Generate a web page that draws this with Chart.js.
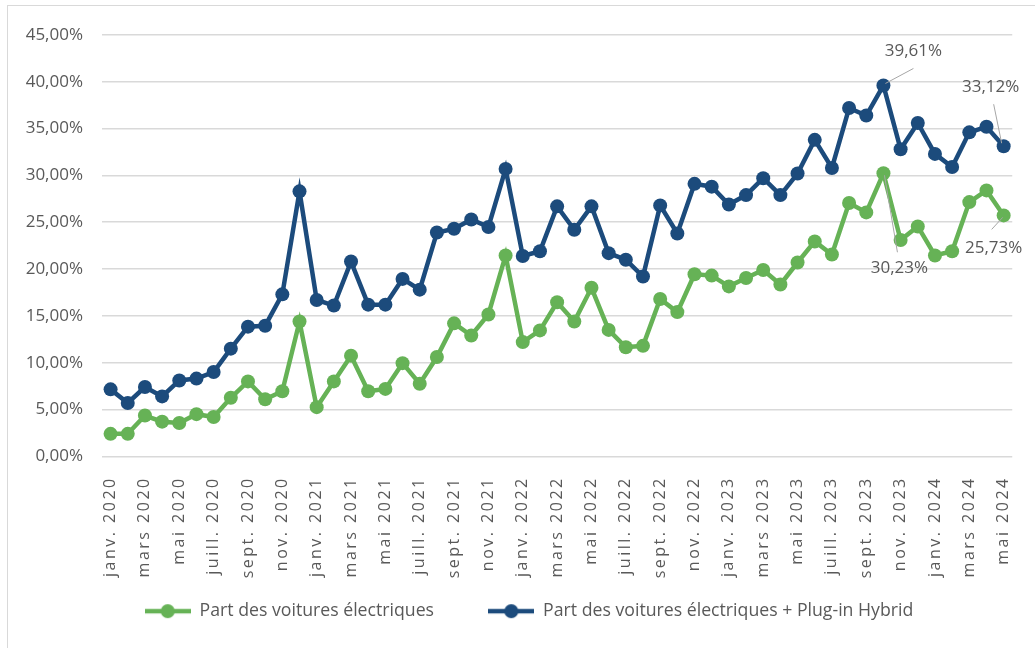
<!DOCTYPE html>
<html>
<head>
    <title>Part des voitures électriques</title>
    <script src="https://cdn.jsdelivr.net/npm/chart.js"></script>
    <style>
        body { margin: 0; background: #fff; }
        #frame { position: absolute; left: 7px; top: 5px; width: 1040px; height: 660px; border: 1px solid #d9d9d9; }
        #wrap { position: absolute; left: 0; top: 0; width: 1035px; height: 648px; }
    </style>
</head>
<body>
    <div id="frame"></div>
    <div id="wrap"><canvas id="evChart"></canvas></div>
    <script>
        const months = ['janv.', 'févr.', 'mars', 'avr.', 'mai', 'juin', 'juill.', 'août', 'sept.', 'oct.', 'nov.', 'déc.'];
        const years = [2020, 2021, 2022, 2023, 2024];

        // janv. 2020 .. mai 2024
        const labels = [];
        years.forEach(y => months.forEach((m, i) => {
            if (y < 2024 || i < 5) labels.push(m + ' ' + y);
        }));

        const electric = [
            2.4, 2.4, 4.35, 3.7, 3.55, 4.5, 4.2, 6.25, 8.0, 6.1, 6.95, 14.4,
            5.25, 8.0, 10.75, 6.95, 7.2, 9.95, 7.75, 10.6, 14.2, 12.9, 15.15, 21.45,
            12.2, 13.45, 16.45, 14.4, 18.0, 13.5, 11.65, 11.8, 16.8, 15.4, 19.45, 19.3,
            18.15, 19.05, 19.9, 18.35, 20.7, 22.95, 21.55, 27.05, 26.05, 30.23, 23.1, 24.55,
            21.45, 21.9, 27.15, 28.4, 25.73
        ];

        const electricPlugin = [
            7.15, 5.7, 7.4, 6.4, 8.1, 8.3, 9.0, 11.5, 13.85, 13.95, 17.3, 28.3,
            16.7, 16.1, 20.8, 16.2, 16.2, 18.95, 17.8, 23.9, 24.3, 25.3, 24.5, 30.7,
            21.4, 21.9, 26.7, 24.2, 26.7, 21.7, 21.0, 19.2, 26.8, 23.8, 29.1, 28.8,
            26.9, 27.9, 29.7, 27.9, 30.2, 33.8, 30.8, 37.2, 36.4, 39.61, 32.8, 35.6,
            32.3, 30.9, 34.6, 35.2, 33.12
        ];

        const greenColor = '#66b256';
        const blueColor = '#1c4b7c';
        const textColor = '#595959';

        // value callouts: [dataset, index, text dx, text dy, line start dx, dy, line end dx, dy]
        const callouts = [
            [1, 45, 30, -34, 2, -2, 30, -17],
            [1, 52, -13, -59, -10, -42, -2, -3],
            [0, 45, 16, 95, 1, 2, 14, 79],
            [0, 52, -10, 33, -1, 2, -12, 14]
        ];

        function pct(v) {
            return v.toFixed(2).replace('.', ',') + '%';
        }

        function legendIcon(color) {
            const c = document.createElement('canvas');
            c.width = 46; c.height = 16;
            const g = c.getContext('2d');
            g.strokeStyle = color;
            g.lineWidth = 4.5;
            g.beginPath(); g.moveTo(0, 8); g.lineTo(46, 8); g.stroke();
            g.fillStyle = color;
            g.beginPath(); g.arc(23, 8, 7, 0, Math.PI * 2); g.fill();
            return c;
        }
        const icons = [legendIcon(greenColor), legendIcon(blueColor)];

        const calloutPlugin = {
            id: 'callouts',
            afterLayout(chart) {
                // spaced-out rotated month labels, like the original
                const sx = chart.scales.x;
                if (sx && !sx._spaced) {
                    const orig = sx.drawLabels;
                    sx.drawLabels = function (area) {
                        this.ctx.letterSpacing = '2.5px';
                        orig.call(this, area);
                        this.ctx.letterSpacing = '0px';
                    };
                    sx._spaced = true;
                }
                // legend sits a bit right of the canvas centre
                if (chart.legend) chart.legend.left += 38;
            },
            afterDatasetsDraw(chart) {
                const ctx = chart.ctx;
                ctx.save();
                ctx.font = '17px "Open Sans"';
                ctx.fillStyle = textColor;
                ctx.strokeStyle = '#a6a6a6';
                ctx.lineWidth = 1;
                ctx.textAlign = 'center';
                ctx.textBaseline = 'middle';
                callouts.forEach(c => {
                    const pt = chart.getDatasetMeta(c[0]).data[c[1]];
                    const v = chart.data.datasets[c[0]].data[c[1]];
                    ctx.beginPath();
                    ctx.moveTo(pt.x + c[4], pt.y + c[5]);
                    ctx.lineTo(pt.x + c[6], pt.y + c[7]);
                    ctx.stroke();
                    ctx.fillText(pct(v), pt.x + c[2], pt.y + c[3]);
                });
                ctx.restore();
            }
        };

        const ctx = document.getElementById('evChart').getContext('2d');
        new Chart(ctx, {
            type: 'line',
            data: {
                labels: labels,
                datasets: [{
                    label: 'Part des voitures électriques',
                    data: electric,
                    borderColor: greenColor,
                    backgroundColor: greenColor,
                    borderWidth: 4.5,
                    pointRadius: 7,
                    pointBorderWidth: 0,
                    tension: 0
                }, {
                    label: 'Part des voitures électriques + Plug-in Hybrid',
                    data: electricPlugin,
                    borderColor: blueColor,
                    backgroundColor: blueColor,
                    borderWidth: 4.5,
                    pointRadius: 7,
                    pointBorderWidth: 0,
                    tension: 0
                }]
            },
            options: {
                responsive: true,
                maintainAspectRatio: false,
                animation: false,
                layout: { padding: { left: 0, right: 15, top: 35, bottom: 18 } },
                plugins: {
                    tooltip: { enabled: false },
                    legend: {
                        position: 'bottom',
                        labels: {
                            usePointStyle: true,
                            pointStyleWidth: 46,
                            padding: 10,
                            color: textColor,
                            font: { family: 'Open Sans', size: 17.7 },
                            generateLabels(chart) {
                                const items = Chart.defaults.plugins.legend.labels.generateLabels(chart);
                                items.forEach((it, i) => { it.pointStyle = icons[i]; });
                                // wider gap between the two entries
                                items[0].text += '\u2003\u2003\u2002';
                                return items;
                            }
                        }
                    }
                },
                scales: {
                    x: {
                        offset: true,
                        grid: { display: false },
                        border: { display: false },
                        afterFit(scale) { scale.height = 136; },
                        ticks: {
                            autoSkip: false,
                            maxRotation: 90,
                            minRotation: 90,
                            padding: 12,
                            color: textColor,
                            font: { family: 'Open Sans', size: 16 },
                            callback(value, index) {
                                return index % 2 === 0 ? this.getLabelForValue(value) : '';
                            }
                        }
                    },
                    y: {
                        min: 0,
                        max: 45,
                        afterFit(scale) { scale.width = 102; },
                        grid: { color: '#d9d9d9', lineWidth: 1.5, drawTicks: false },
                        border: { display: false },
                        ticks: {
                            stepSize: 5,
                            padding: 19,
                            color: textColor,
                            font: { family: 'Open Sans', size: 17 },
                            callback(value) { return pct(value); }
                        }
                    }
                }
            },
            plugins: [calloutPlugin]
        });
    </script>
</body>
</html>
